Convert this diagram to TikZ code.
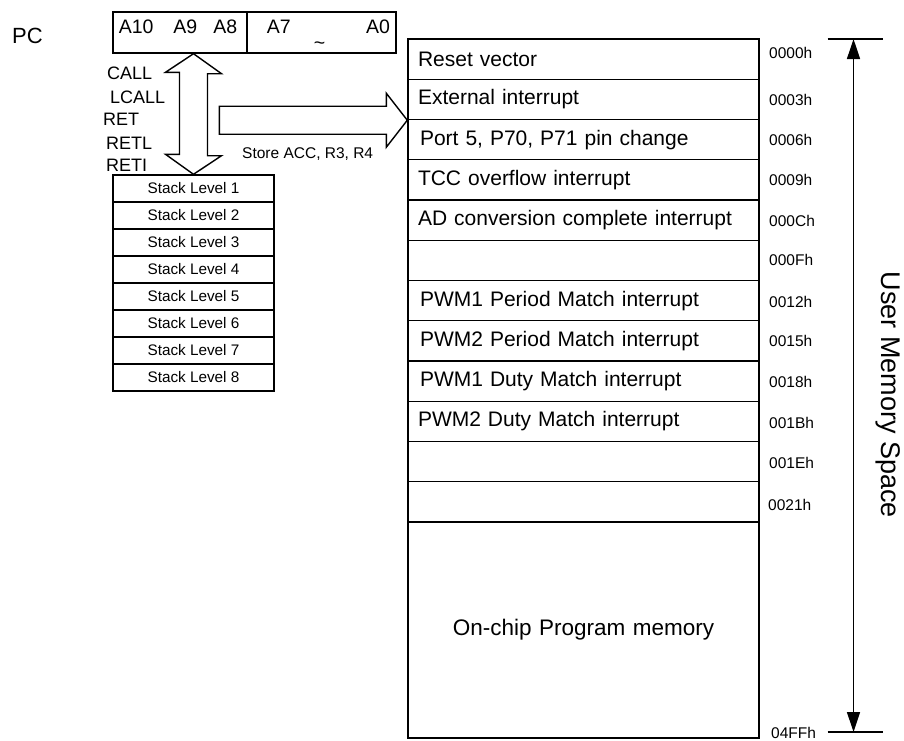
\documentclass[tikz,border=0pt]{standalone}
\usepackage{fontspec}
\setmainfont{Liberation Sans}
\usetikzlibrary{arrows.meta,positioning,calc}
\tikzset{>={Triangle[length=20pt,width=13pt]},
  memrow/.style={draw,line width=1.4pt,minimum width=351pt,minimum height=40.25pt,text width=331pt,
    inner xsep=10pt,inner ysep=0pt,align=left,font=\fontsize{21}{25}\selectfont},
  stackrow/.style={draw,line width=1.4pt,minimum width=161pt,minimum height=27pt,inner sep=0pt,
    font=\fontsize{15.3}{18}\selectfont},
  regbox/.style={draw,line width=1.4pt,minimum height=41pt,inner sep=0pt,text height=13pt,
    text depth=12pt,font=\fontsize{19.5}{23}\selectfont},
  addr/.style={anchor=west,inner sep=0pt,font=\fontsize{15.5}{18}\selectfont},
  oplab/.style={anchor=west,inner sep=0pt,font=\fontsize{18}{21}\selectfont},
  hollow/.style={draw,line width=1.4pt,fill=white,line join=miter}}
\begin{document}
\begin{tikzpicture}[x=1pt,y=-1pt]
\useasboundingbox (0,0) rectangle (904,740);
% program counter
\node[font=\fontsize{22}{26}\selectfont,inner sep=0pt] (pc) at (27.5,35.5) {PC};
\node[regbox,minimum width=134pt] (pcHi) at (180,32.5) {\hspace{-4pt}A10\hspace{20pt}A9\hspace{16pt}A8};
\node[regbox,minimum width=149pt] (pcLo) at (321.5,32.5) {\hspace{14pt}A7\hspace{23pt}\raisebox{-16pt}{\textasciitilde}\hspace{41pt}A0};
% stack
\node[stackrow] (stk1) at (193.5,188.5) {Stack Level 1};
\node[stackrow] (stk2) at (193.5,215.5) {Stack Level 2};
\node[stackrow] (stk3) at (193.5,242.5) {Stack Level 3};
\node[stackrow] (stk4) at (193.5,269.5) {Stack Level 4};
\node[stackrow] (stk5) at (193.5,296.5) {Stack Level 5};
\node[stackrow] (stk6) at (193.5,323.5) {Stack Level 6};
\node[stackrow] (stk7) at (193.5,350.5) {Stack Level 7};
\node[stackrow] (stk8) at (193.5,377.5) {Stack Level 8};
\node[oplab] (opCall) at (107,73) {CALL};
\node[oplab] (opLcall) at (110,97) {LCALL};
\node[oplab] (opRet) at (103,119) {RET};
\node[oplab] (opRetl) at (106,143) {RETL};
\node[oplab] (opReti) at (106,165) {RETI};
% memory map
\node[memrow] (m1) at (583.5,59.1) {Reset vector};
\node[memrow] (m2) at (583.5,99.4) {External interrupt};
\node[memrow] (m3) at (583.5,139.6) {\hspace{2pt}Port 5, P70, P71 pin change};
\node[memrow] (m4) at (583.5,179.9) {TCC overflow interrupt};
\node[memrow] (m5) at (583.5,220.1) {AD conversion complete interrupt};
\node[memrow] (m6) at (583.5,260.4) {};
\node[memrow] (m7) at (583.5,300.6) {\hspace{2pt}PWM1 Period Match interrupt};
\node[memrow] (m8) at (583.5,340.9) {\hspace{2pt}PWM2 Period Match interrupt};
\node[memrow] (m9) at (583.5,381.1) {\hspace{2pt}PWM1 Duty Match interrupt};
\node[memrow] (m10) at (583.5,421.4) {PWM2 Duty Match interrupt};
\node[memrow] (m11) at (583.5,461.6) {};
\node[memrow] (m12) at (583.5,501.9) {};
\node[memrow,minimum height=216pt,align=center,font=\fontsize{22.5}{27}\selectfont] (mProg) at (583.5,630) {On-chip Program memory};
\node[addr] (ad0000) at (769,53) {0000h};
\node[addr] (ad0003) at (769,100) {0003h};
\node[addr] (ad0006) at (769,140) {0006h};
\node[addr] (ad0009) at (769,180) {0009h};
\node[addr] (ad000C) at (769,221) {000Ch};
\node[addr] (ad000F) at (769,260) {000Fh};
\node[addr] (ad0012) at (769,302) {0012h};
\node[addr] (ad0015) at (769,341) {0015h};
\node[addr] (ad0018) at (769,382) {0018h};
\node[addr] (ad001B) at (769,423) {001Bh};
\node[addr] (ad001E) at (769,463) {001Eh};
\node[addr] (ad0021) at (768,505) {0021h};
\node[addr] (ad04FF) at (771,733) {04FFh};
% block arrows
\coordinate (upTip) at (stk1.north |- pcHi.south);
\draw[hollow] (upTip) -- ++(28,20) -- ++(-14,0) -- ++(0,82) -- ++(14,0) -- (stk1.north)
  -- ++(-28,-20) -- ++(14,0) -- ++(0,-82) -- ++(-14,0) -- cycle;
\draw[hollow] (m2.south west) -- ++(-21,-27) -- ++(0,13) -- ++(-167,0) -- ++(0,28)
  -- ++(167,0) -- ++(0,13) -- cycle;
\node[anchor=west,inner sep=0pt,font=\fontsize{15.5}{18}\selectfont] (store) at (242,154) {Store ACC, R3, R4};
% user memory space
\coordinate (memTop) at (853.5,39);
\coordinate (memBot) at (853.5,732);
\draw[line width=1.4pt] ([xshift=-26pt]memTop) -- ([xshift=29pt]memTop);
\draw[line width=1.4pt] ([xshift=-26pt]memBot) -- ([xshift=29pt]memBot);
\draw[<->,line width=1.4pt] (memBot) -- (memTop);
\node[rotate=-90,inner sep=0pt,font=\fontsize{27}{32}\selectfont] (umSpace) at (888,395) {User Memory Space};
\end{tikzpicture}
\end{document}
